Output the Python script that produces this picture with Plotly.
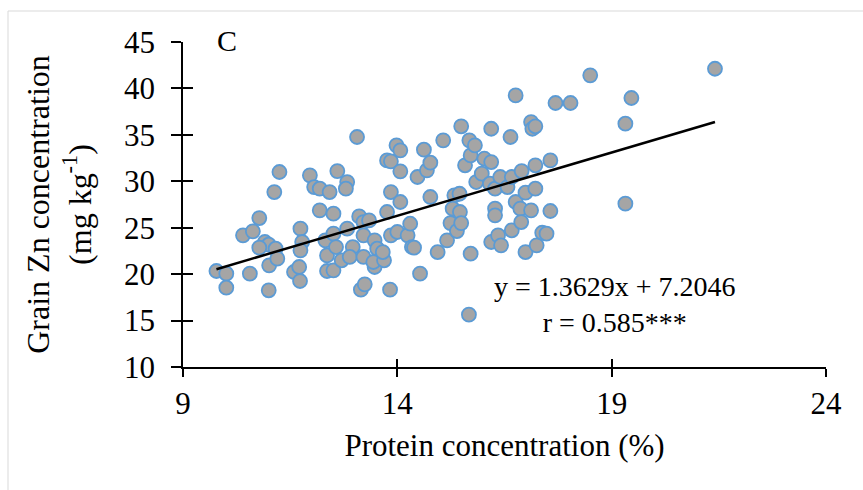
import plotly.graph_objects as go

# Protein concentration (%) and Grain Zn concentration (mg/kg)
protein = [9.78, 10.01, 10.01, 10.40, 10.63, 10.56, 10.78, 10.91, 11.00, 10.78,
           11.01, 11.00, 11.13, 11.25, 11.16, 11.20, 11.59, 11.71, 11.73, 11.74,
           11.78, 11.74, 11.96, 12.06, 12.19, 12.19, 12.42, 12.32, 12.36, 12.36,
           12.51, 12.51, 12.51, 12.60, 12.57, 12.70, 12.83, 12.80, 12.83, 12.96,
           12.89, 13.06, 13.11, 13.21, 13.21, 13.21, 13.15, 13.24, 13.34, 13.47,
           13.53, 13.47, 13.44, 13.69, 13.66, 13.76, 13.85, 13.85, 13.76, 13.85,
           13.83, 13.98, 14.07, 14.07, 14.07, 14.00, 14.24, 14.30, 14.34, 14.39,
           14.47, 14.53, 14.62, 14.69, 14.77, 14.77, 14.94, 15.07, 15.16, 15.24,
           15.33, 15.29, 15.39, 15.49, 15.45, 15.46, 15.49, 15.58, 15.68, 15.71,
           15.81, 15.84, 15.71, 15.67, 15.97, 16.03, 16.19, 16.19, 16.16, 16.28,
           16.28, 16.28, 16.19, 16.35, 16.42, 16.40, 16.57, 16.67, 16.64, 16.76,
           16.67, 16.76, 16.87, 16.89, 16.90, 16.99, 16.99, 17.12, 17.15, 17.22,
           17.12, 17.22, 17.22, 17.25, 17.38, 17.48, 17.57, 17.57, 17.69, 18.04,
           18.50, 19.32, 19.32, 19.46, 21.41]
zinc = [20.34, 20.05, 18.54, 24.18, 24.61, 20.05, 26.04, 23.46, 23.17, 22.85,
        20.95, 18.26, 28.84, 31.00, 22.74, 21.67, 20.23, 20.77, 19.26, 24.90,
        23.46, 22.56, 30.64, 29.38, 29.20, 26.87, 28.84, 23.64, 22.02, 20.34,
        20.41, 26.51, 24.36, 31.10, 22.92, 21.49, 29.92, 29.20, 24.90, 22.92,
        21.85, 34.77, 26.22, 25.61, 24.18, 21.85, 18.33, 18.90, 25.79, 23.64,
        22.74, 20.77, 21.31, 21.49, 22.38, 32.25, 32.15, 28.84, 26.69, 24.18,
        18.33, 33.87, 33.33, 31.07, 27.77, 24.54, 24.18, 25.43, 22.92, 22.85,
        30.46, 20.05, 33.40, 31.18, 32.00, 28.31, 22.38, 34.41, 23.64, 25.50,
        28.49, 27.05, 24.64, 35.92, 28.66, 26.69, 25.50, 31.72, 34.41, 32.79,
        33.87, 29.92, 22.20, 15.64, 30.82, 32.43, 35.66, 32.07, 29.74, 29.20,
        27.05, 26.33, 23.46, 24.18, 23.10, 30.46, 29.38, 30.46, 34.77, 39.25,
        24.72, 27.77, 27.05, 25.61, 31.10, 28.77, 22.38, 36.38, 35.66, 35.92,
        26.87, 31.72, 29.20, 23.10, 24.46, 24.36, 32.25, 26.80, 38.43, 38.43,
        41.41, 36.20, 27.59, 38.97, 42.12]

slope = 1.3629
intercept = 7.2046
eq_text = "y = 1.3629x + 7.2046<br>r = 0.585***"
panel_label = "C"
x_ticks = [9, 14, 19, 24]
y_ticks = [10, 15, 20, 25, 30, 35, 40, 45]

x_fit = [min(protein), max(protein)]
y_fit = [slope * v + intercept for v in x_fit]

FONT = "Liberation Serif, Times New Roman, serif"

fig = go.Figure()
fig.add_trace(go.Scatter(
    x=protein, y=zinc, mode="markers",
    marker=dict(size=14, color="#A5A5A5", line=dict(color="#5B9BD5", width=1.8)),
    showlegend=False, hoverinfo="skip"))
fig.add_trace(go.Scatter(
    x=x_fit, y=y_fit, mode="lines",
    line=dict(color="black", width=2.5), showlegend=False, hoverinfo="skip"))
# empty trace to anchor the overlay axes used for crossing tick marks
fig.add_trace(go.Scatter(x=[], y=[], xaxis="x2", yaxis="y2", showlegend=False))

axis_common = dict(showgrid=False, zeroline=False, tickcolor="black", tickwidth=1.5)

fig.update_layout(
    width=863, height=490,
    margin=dict(l=183, r=37, t=42, b=123),
    paper_bgcolor="white", plot_bgcolor="white",
    font=dict(family=FONT, color="black", size=31),
    xaxis=dict(range=[9, 24], tickvals=x_ticks, ticks="outside", ticklen=8,
               showline=True, linecolor="black", linewidth=1.5,
               tickfont=dict(size=31, family=FONT),
               title=dict(text="Protein concentration (%)", font=dict(size=31, family=FONT), standoff=14),
               **axis_common),
    yaxis=dict(range=[10, 45], tickvals=y_ticks, ticks="outside", ticklen=10,
               showline=True, linecolor="black", linewidth=1.5,
               tickfont=dict(size=31, family=FONT), ticklabelstandoff=10,
               title=dict(text="Grain Zn concentration<br>(mg kg<sup>-1</sup>)",
                          font=dict(size=32, family=FONT), standoff=23),
               **axis_common),
    xaxis2=dict(range=[9, 24], tickvals=x_ticks, ticks="inside", ticklen=8,
                overlaying="x", anchor="y2", side="bottom", showticklabels=False,
                showline=False, **axis_common),
    yaxis2=dict(range=[10, 45], tickvals=y_ticks, ticks="inside", ticklen=10,
                overlaying="y", anchor="x2", side="left", showticklabels=False,
                showline=False, **axis_common),
    annotations=[
        dict(x=19.08, y=16.7, xref="x", yref="y", text=eq_text, showarrow=False,
             align="center", font=dict(size=28, family=FONT)),
        dict(x=(227 - 183) / 643, y=1.006, xref="paper", yref="paper", text=panel_label,
             showarrow=False, xanchor="center", yanchor="middle",
             font=dict(size=30, family=FONT)),
    ],
    shapes=[dict(type="rect", xref="paper", yref="paper",
                 x0=(8 - 183) / 643, x1=(880 - 183) / 643,
                 y0=(367 - 520) / 325, y1=(367 - 11) / 325,
                 line=dict(color="#D9D9D9", width=1), fillcolor="rgba(0,0,0,0)", layer="below")],
)

fig.write_html("out.html")
